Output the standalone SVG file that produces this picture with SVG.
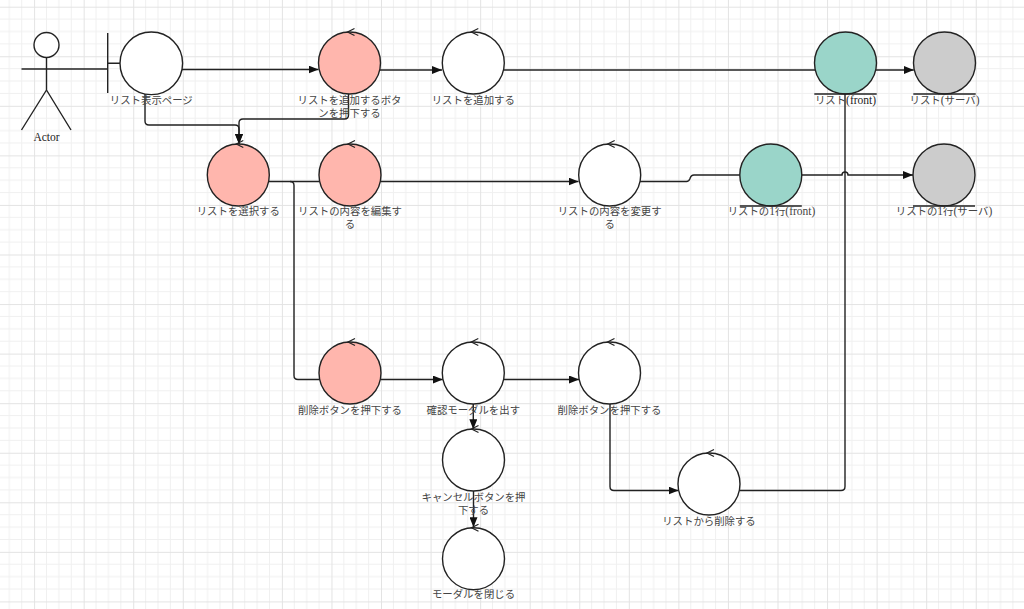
<svg xmlns="http://www.w3.org/2000/svg" width="1024" height="609" viewBox="0 0 1024 609">
<defs>
<pattern id="grid" x="34.1" y="6.7" width="49.56" height="49.56" patternUnits="userSpaceOnUse">
<path d="M12.39,0V49.56M24.78,0V49.56M37.17,0V49.56M0,12.39H49.56M0,24.78H49.56M0,37.17H49.56" stroke="#f0f0f0" stroke-width="1" fill="none"/>
<path d="M0.5,0V49.56M0,0.5H49.56" stroke="#e3e3e3" stroke-width="1" fill="none"/>
</pattern>
<marker id="arr" viewBox="0 0 10 8" refX="10" refY="4" markerWidth="10" markerHeight="8" orient="auto" markerUnits="userSpaceOnUse">
<path d="M0,0 L10,4 L0,8 z" fill="#111"/>
</marker>
<path id="chev" d="M5,-3.5 L-2,0 L5,3.5" fill="none" stroke="#222" stroke-width="1.2"/>
</defs>
<style>
.c{stroke:#222;stroke-width:1.4}
.ctl{fill:#fff}
.pink{fill:#ffb6ad}
.teal{fill:#9ad5c9}
.grey{fill:#cccccc}
.ln{fill:none;stroke:#222;stroke-width:1.4}
.lbl{font-family:"Liberation Serif","Noto Sans CJK JP",serif;font-size:10.4px;fill:#444;text-anchor:middle}
.lat{font-size:11.5px;fill:#222}
.conn path{fill:none;stroke:#222;stroke-width:1.4}
</style>
<rect width="1024" height="609" fill="#fff"/>
<rect width="1024" height="609" fill="url(#grid)"/>

<g id="actor">
<circle cx="46.5" cy="45" r="12.5" fill="#fff" class="c"/>
<path d="M46.5,57.5V90M21.5,69H71M46.5,90L21.5,130M46.5,90L71,130" class="ln"/>
<text x="46.5" y="141" class="lbl"><tspan class="lat">Actor</tspan></text>
</g>

<g class="conn" id="connectors">
<path d="M71,69H107.7"/>
<path d="M182,69.5H318.5" marker-end="url(#arr)"/>
<path d="M380,70H442" marker-end="url(#arr)"/>
<path d="M503.5,70H815.3"/>
<path d="M875.7,70H913.8" marker-end="url(#arr)"/>
<path d="M145,94V121Q145,125 149,125H235Q239,125 239,129V144" marker-end="url(#arr)"/>
<path d="M348.5,94V115Q348.5,119 344.5,119H243Q239,119 239,123V144" marker-end="url(#arr)"/>
<path d="M268.6,181.5H319.7"/>
<path d="M290,181.5Q294,181.5 294,185.5V375.5Q294,379.5 298,379.5H319.5"/>
<path d="M380.5,181.5H578.5" marker-end="url(#arr)"/>
<path d="M640,181.5H686.5Q689,181.5 690,178.5Q691,175 694,175H739.8"/>
<path d="M801.8,175H842A3,3 0 0 1 848,175H913" marker-end="url(#arr)"/>
<path d="M380.7,379.5H442.8" marker-end="url(#arr)"/>
<path d="M504,379.5H579" marker-end="url(#arr)"/>
<path d="M610,404V486.5Q610,490.5 614,490.5H678.5" marker-end="url(#arr)"/>
<path d="M739.5,490.5H841Q845,490.5 845,486.5V94"/>
<path d="M473.3,404V429.3" marker-end="url(#arr)"/>
<path d="M473.5,491V527.3" marker-end="url(#arr)"/>
</g>

<g id="list-page">
<path d="M107.7,33V93M107.7,63.3H120" class="ln"/>
<circle cx="151.3" cy="63.3" r="31.3" class="c ctl"/>
<text x="151.3" y="104" class="lbl">リスト表示ページ</text>
</g>

<g id="add-button">
<circle cx="349.5" cy="63" r="31" class="c pink"/>
<use href="#chev" x="349.5" y="32"/>
<text x="349.5" y="104" class="lbl">リストを追加するボタ</text>
<text x="349.5" y="117" class="lbl">ンを押下する</text>
</g>

<g id="add-list">
<circle cx="473.3" cy="63" r="31" class="c ctl"/>
<use href="#chev" x="473.3" y="32"/>
<text x="473.3" y="104" class="lbl">リストを追加する</text>
</g>

<g id="list-front">
<circle cx="845.5" cy="63" r="31" class="c teal"/>
<path d="M814.3,94H876.7" class="ln"/>
<text x="845.5" y="104" class="lbl">リスト<tspan class="lat">(front)</tspan></text>
</g>

<g id="list-server">
<circle cx="944.5" cy="63" r="31" class="c grey"/>
<path d="M913.3,94H975.7" class="ln"/>
<text x="944.5" y="104" class="lbl">リスト<tspan class="lat" style="fill:#444">(</tspan>サーバ<tspan class="lat" style="fill:#444">)</tspan></text>
</g>

<g id="select-list">
<circle cx="238.3" cy="175" r="31" class="c pink"/>
<use href="#chev" x="238.3" y="144"/>
<text x="238.3" y="215" class="lbl">リストを選択する</text>
</g>

<g id="edit-list">
<circle cx="350" cy="175" r="31" class="c pink"/>
<use href="#chev" x="350" y="144"/>
<text x="350" y="215" class="lbl">リストの内容を編集す</text>
<text x="350" y="228" class="lbl">る</text>
</g>

<g id="change-list">
<circle cx="609.7" cy="175" r="31" class="c ctl"/>
<use href="#chev" x="609.7" y="144"/>
<text x="609.7" y="215" class="lbl">リストの内容を変更す</text>
<text x="609.7" y="228" class="lbl">る</text>
</g>

<g id="row-front">
<circle cx="770.8" cy="175" r="31" class="c teal"/>
<path d="M739.8,206H801.8" class="ln"/>
<text x="771.5" y="215" class="lbl">リストの<tspan class="lat" style="fill:#444">1</tspan>行<tspan class="lat" style="fill:#444">(front)</tspan></text>
</g>

<g id="row-server">
<circle cx="944" cy="175" r="31" class="c grey"/>
<path d="M913,206H975" class="ln"/>
<text x="944" y="215" class="lbl">リストの<tspan class="lat" style="fill:#444">1</tspan>行<tspan class="lat" style="fill:#444">(</tspan>サーバ<tspan class="lat" style="fill:#444">)</tspan></text>
</g>

<g id="delete-button">
<circle cx="350" cy="373" r="31" class="c pink"/>
<use href="#chev" x="350" y="342"/>
<text x="350" y="414" class="lbl">削除ボタンを押下する</text>
</g>

<g id="confirm-modal">
<circle cx="473.3" cy="373" r="31" class="c ctl"/>
<use href="#chev" x="473.3" y="342"/>
<text x="473.3" y="414" class="lbl">確認モーダルを出す</text>
</g>

<g id="delete-confirm">
<circle cx="609.5" cy="373" r="31" class="c ctl"/>
<use href="#chev" x="609.5" y="342"/>
<text x="609.5" y="414" class="lbl">削除ボタンを押下する</text>
</g>

<g id="remove-list">
<circle cx="709" cy="484" r="31" class="c ctl"/>
<use href="#chev" x="709" y="453"/>
<text x="709" y="525" class="lbl">リストから削除する</text>
</g>

<g id="cancel-button">
<circle cx="473.5" cy="460" r="31" class="c ctl"/>
<use href="#chev" x="473.5" y="429"/>
<text x="473.5" y="501" class="lbl">キャンセルボタンを押</text>
<text x="473.5" y="514" class="lbl">下する</text>
</g>

<g id="close-modal">
<circle cx="473.5" cy="558.7" r="31" class="c ctl"/>
<use href="#chev" x="473.5" y="527.7"/>
<text x="473.5" y="598" class="lbl">モーダルを閉じる</text>
</g>
</svg>
